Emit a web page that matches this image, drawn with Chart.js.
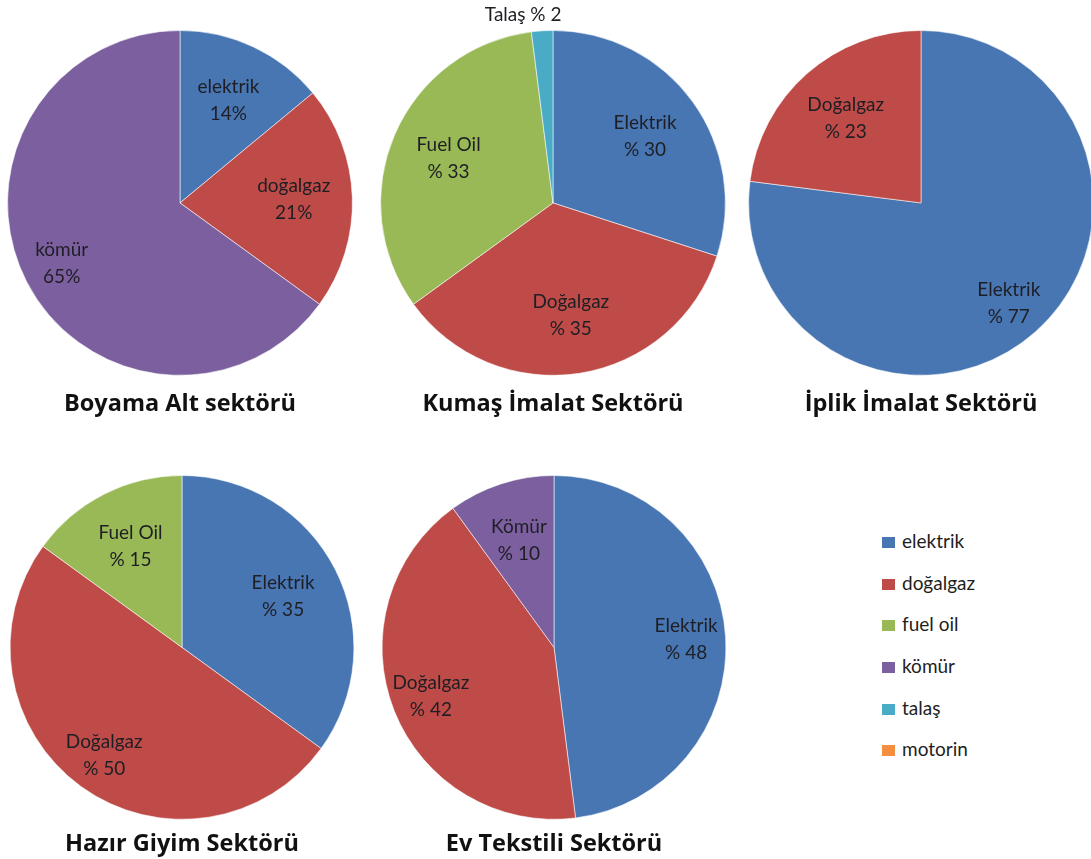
<!DOCTYPE html>
<html>
<head>
<meta charset="utf-8">
<script src="https://cdn.jsdelivr.net/npm/chart.js@4"></script>
<style>
    body { margin: 0; background: #fff; font-family: Lato, sans-serif; }
    #content { position: relative; width: 1091px; height: 859px; overflow: hidden; }
    .pie-box { position: absolute; width: 360px; height: 420px; }
    #legend { position: absolute; left: 882px; top: 529px; }
    .legend-row { height: 41.7px; display: flex; align-items: flex-start; font-size: 19px; color: #1e1e1e; }
    .legend-box { width: 13px; height: 11px; margin: 8px 7px 0 0; }
</style>
</head>
<body>
<div id="content">
    <div class="pie-box" style="left:0px; top:2px;"><canvas id="pie-boyama"></canvas></div>
    <div class="pie-box" style="left:373px; top:2px;"><canvas id="pie-kumas"></canvas></div>
    <div class="pie-box" style="left:741px; top:2px;"><canvas id="pie-iplik"></canvas></div>
    <div class="pie-box" style="left:2px; top:447px;"><canvas id="pie-hazir"></canvas></div>
    <div class="pie-box" style="left:374px; top:447px;"><canvas id="pie-ev"></canvas></div>
    <div id="legend"></div>
</div>
<script>
// enerji kaynakları ve renkleri
const legend_names = ['elektrik', 'doğalgaz', 'fuel oil', 'kömür', 'talaş', 'motorin'];
const legend_colors = ['#4876b3', '#be4b48', '#99b956', '#7c5f9f', '#4aabc6', '#f58f3f'];

// sektör verileri (%)
const boyama_labels = ['elektrik', 'doğalgaz', 'kömür'];
const boyama_types = ['elektrik', 'doğalgaz', 'kömür'];
const boyama_values = [14, 21, 65];

const kumas_labels = ['Elektrik', 'Doğalgaz', 'Fuel Oil', 'Talaş'];
const kumas_types = ['elektrik', 'doğalgaz', 'fuel oil', 'talaş'];
const kumas_values = [30, 35, 33, 2];

const iplik_labels = ['Elektrik', 'Doğalgaz'];
const iplik_types = ['elektrik', 'doğalgaz'];
const iplik_values = [77, 23];

const hazir_labels = ['Elektrik', 'Doğalgaz', 'Fuel Oil'];
const hazir_types = ['elektrik', 'doğalgaz', 'fuel oil'];
const hazir_values = [35, 50, 15];

const ev_labels = ['Elektrik', 'Doğalgaz', 'Kömür'];
const ev_types = ['elektrik', 'doğalgaz', 'kömür'];
const ev_values = [48, 42, 10];

function color_of(type) {
    return legend_colors[legend_names.indexOf(type)];
}

// dilim etiketleri: iki satır, küçük dilimler dışarıda tek satır
const slice_labels = {
    id: 'slice_labels',
    afterDatasetsDraw(chart, args, opts) {
        let ctx = chart.ctx;
        let meta = chart.getDatasetMeta(0);
        let values = chart.data.datasets[0].data;
        ctx.save();
        ctx.fillStyle = '#1e1e24';
        ctx.font = '19px Lato';
        ctx.textAlign = 'center';
        ctx.textBaseline = 'middle';
        meta.data.forEach((arc, i) => {
            let p = arc.getProps(['x', 'y', 'startAngle', 'endAngle', 'outerRadius'], true);
            let mid = (p.startAngle + p.endAngle) / 2;
            let name = chart.data.labels[i];
            let v = values[i];
            let value_text = opts.percent_first ? '% ' + v : v + '%';
            if (v < 5) {
                let r = p.outerRadius + 16;
                let x = p.x + Math.cos(mid) * r - 18;
                let y = p.y + Math.sin(mid) * r;
                ctx.fillText(name + ' ' + value_text, x, y);
                return;
            }
            let f = v > 35 ? 0.77 : 0.66;
            let x = p.x + Math.cos(mid) * p.outerRadius * f;
            let y = p.y + Math.sin(mid) * p.outerRadius * f;
            ctx.fillText(name, x, y - 13);
            ctx.fillText(value_text, x, y + 14);
        });
        ctx.restore();
    }
};

function create_pie(canvas_id, title, labels, types, values, percent_first, title_gap) {
    new Chart(document.getElementById(canvas_id).getContext('2d'), {
        type: 'pie',
        data: {
            labels: labels,
            datasets: [{
                data: values,
                backgroundColor: types.map(color_of),
                borderColor: 'rgba(255,255,255,0.55)',
                borderWidth: 1
            }]
        },
        options: {
            responsive: false,
            animation: false,
            layout: { padding: { top: 28, bottom: 0 } },
            plugins: {
                legend: { display: false },
                tooltip: { enabled: false },
                title: {
                    display: true,
                    text: title,
                    position: 'bottom',
                    color: '#111',
                    font: { family: 'Open Sans', size: 23.5, weight: 'bold' },
                    padding: { top: title_gap, bottom: 0 }
                },
                slice_labels: { percent_first: percent_first }
            }
        },
        plugins: [slice_labels]
    });
}

function size_canvas(id, w, h) {
    let c = document.getElementById(id);
    c.width = w;
    c.height = h;
    c.style.width = w + 'px';
    c.style.height = h + 'px';
}

['pie-boyama', 'pie-kumas', 'pie-iplik'].forEach(id => size_canvas(id, 360, 416));
['pie-hazir', 'pie-ev'].forEach(id => size_canvas(id, 360, 411));

create_pie('pie-boyama', 'Boyama Alt sektörü', boyama_labels, boyama_types, boyama_values, false, 14);
create_pie('pie-kumas', 'Kumaş İmalat Sektörü', kumas_labels, kumas_types, kumas_values, true, 14);
create_pie('pie-iplik', 'İplik İmalat Sektörü', iplik_labels, iplik_types, iplik_values, true, 14);
create_pie('pie-hazir', 'Hazır Giyim Sektörü', hazir_labels, hazir_types, hazir_values, true, 10);
create_pie('pie-ev', 'Ev Tekstili Sektörü', ev_labels, ev_types, ev_values, true, 10);

// ayrı lejant
let legend_div = document.getElementById('legend');
for (let i = 0; i < legend_names.length; i++) {
    let row = document.createElement('div');
    row.className = 'legend-row';
    let box = document.createElement('div');
    box.className = 'legend-box';
    box.style.background = legend_colors[i];
    let txt = document.createElement('span');
    txt.innerText = legend_names[i];
    row.appendChild(box);
    row.appendChild(txt);
    legend_div.appendChild(row);
}
</script>
</body>
</html>
